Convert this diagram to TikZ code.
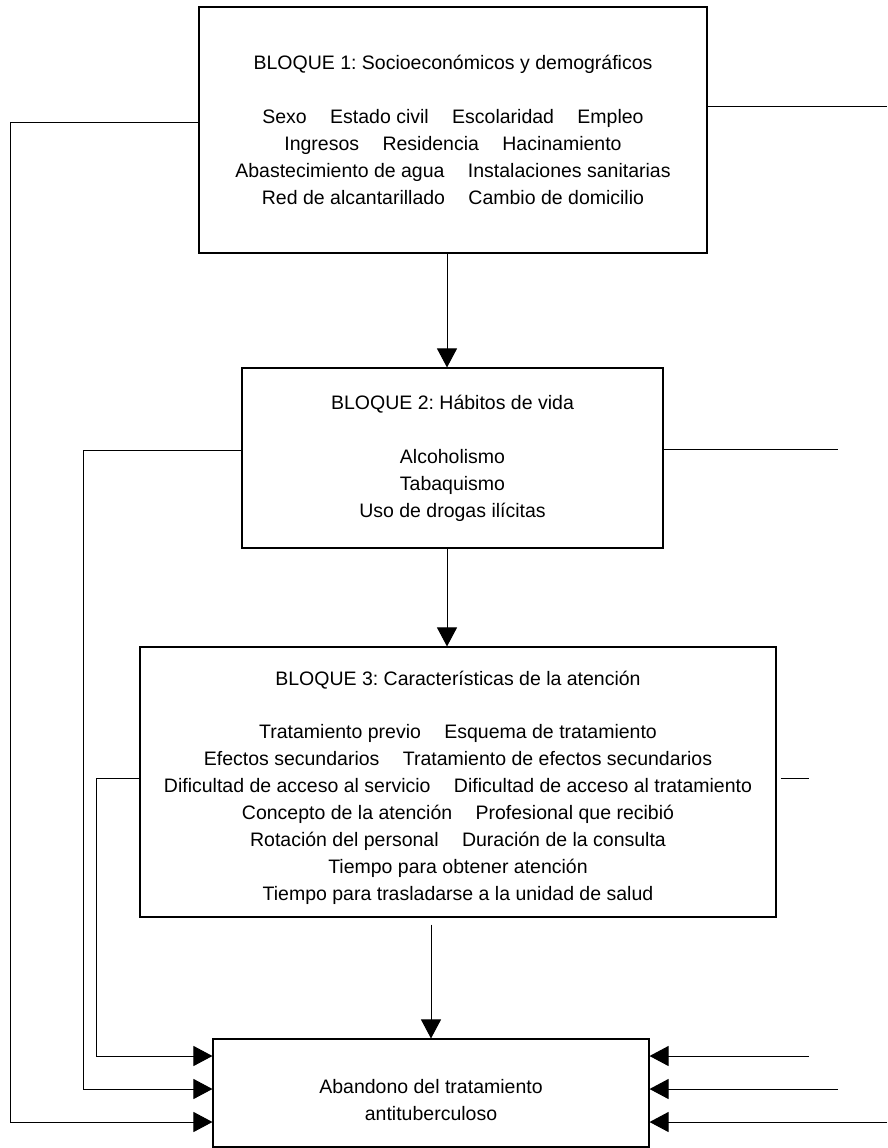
\documentclass[tikz,border=0pt]{standalone}
\usepackage{fontspec}
\setmainfont{Liberation Sans}
\usetikzlibrary{arrows.meta}
\newcommand{\gp}{\hspace{1.2em}}
\begin{document}
\frenchspacing
\begin{tikzpicture}[x=1pt,y=-1pt,
  box/.style={draw, line width=1.1pt, inner sep=0pt, align=center,
    font=\fontsize{19.5}{27}\selectfont},
  conn/.style={line width=1pt},
  arr/.style={conn, -{Triangle[length=19pt,width=20pt]}}]
\useasboundingbox (0,0) rectangle (887,1148);
\node[box, minimum width=508pt, minimum height=246pt] (b1) at (453,130)
  {BLOQUE 1: Socioeconómicos y demográficos\\[27pt]
   Sexo\gp Estado civil\gp Escolaridad\gp Empleo\\
   Ingresos\gp Residencia\gp Hacinamiento\\
   Abastecimiento de agua\gp Instalaciones sanitarias\\
   Red de alcantarillado\gp Cambio de domicilio};
\node[box, minimum width=421pt, minimum height=180pt] (b2) at (452.5,458)
  {BLOQUE 2: Hábitos de vida\\[27pt]
   Alcoholismo\\ Tabaquismo\\ Uso de drogas ilícitas};
\node[box, minimum width=636pt, minimum height=270pt] (b3) at (458,782)
  {\rule{0pt}{27pt}BLOQUE 3: Características de la atención\\[26pt]
   Tratamiento previo\gp Esquema de tratamiento\\
   Efectos secundarios\gp Tratamiento de efectos secundarios\\
   Dificultad de acceso al servicio\gp Dificultad de acceso al tratamiento\\
   Concepto de la atención\gp Profesional que recibió\\
   Rotación del personal\gp Duración de la consulta\\
   Tiempo para obtener atención\\
   Tiempo para trasladarse a la unidad de salud};
\node[box, minimum width=436pt, minimum height=108pt] (b4) at (431,1093)
  {\rule{0pt}{29pt}Abandono del tratamiento\\ antituberculoso};
% vertical arrows
\draw[arr] ([xshift=-6pt]b1.south) -- ([xshift=-6pt]b1.south |- b2.north);
\draw[arr] ([xshift=-5.5pt]b2.south) -- ([xshift=-5.5pt]b2.south |- b3.north);
\draw[arr] (b3.south -| b4.north) ++(0,7) -- (b4.north);
% left connectors
\draw[arr] (b1.west |- 0,122) -- (10,122) |- (b4.west |- 0,1122);
\draw[arr] (b2.west |- 0,450) -- (83,450) |- (b4.west |- 0,1089);
\draw[arr] (b3.west |- 0,778) -- (96,778) |- (b4.west |- 0,1056);
% right connectors
\draw[conn] (b1.east |- 0,106) -- (887,106);
\draw[conn] (b2.east |- 0,449) -- (838,449);
\draw[conn] ([xshift=4pt]b3.east |- 0,778) -- (809,778);
\draw[arr] (809,1056) -- (b4.east |- 0,1056);
\draw[arr] (838,1089) -- (b4.east |- 0,1089);
\draw[arr] (887,1122) -- (b4.east |- 0,1122);
\end{tikzpicture}
\end{document}
